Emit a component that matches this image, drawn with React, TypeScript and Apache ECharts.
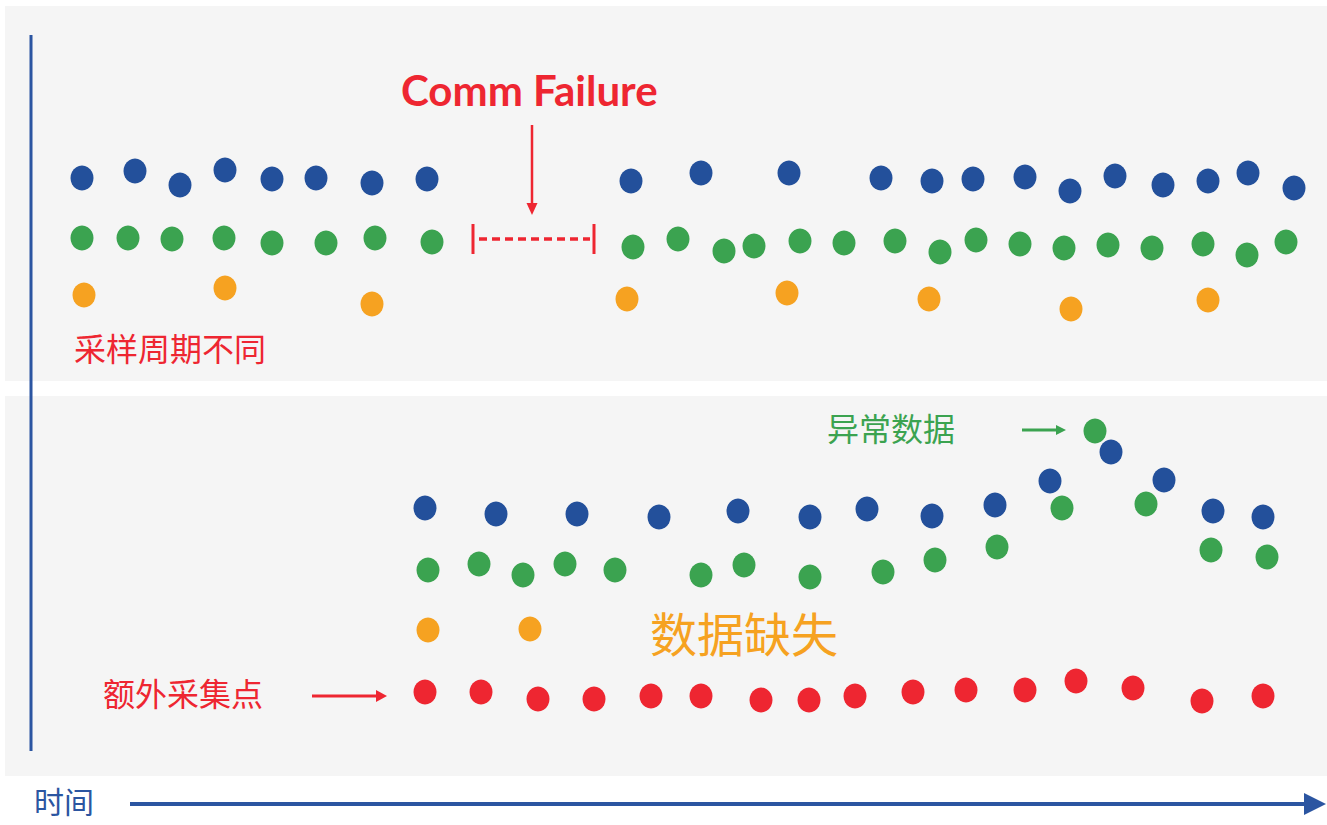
import React, { useEffect, useRef } from "react";
import * as echarts from "echarts";

// time axis (tenths of the illustration's time unit), value axis per panel
const topBlueT = [8.2, 13.5, 18.0, 22.5, 27.2, 31.6, 37.2, 42.7, 63.1, 70.1, 78.9, 88.1, 93.2, 97.3, 102.5, 107.0, 111.5, 116.3, 120.8, 124.8, 129.4];
const topBlueV = [20.3, 21.0, 19.6, 21.1, 20.2, 20.3, 19.8, 20.2, 20.0, 20.8, 20.8, 20.3, 20.0, 20.2, 20.4, 19.0, 20.5, 19.6, 20.0, 20.8, 19.3];
const topGreenT = [8.2, 12.8, 17.2, 22.4, 27.2, 32.6, 37.5, 43.2, 63.3, 67.8, 72.4, 75.4, 80.0, 84.4, 89.5, 94.0, 97.6, 102.0, 106.4, 110.8, 115.2, 120.3, 124.7, 128.6];
const topGreenV = [14.3, 14.3, 14.2, 14.3, 13.8, 13.8, 14.3, 13.9, 13.4, 14.2, 13.0, 13.5, 14.0, 13.8, 14.0, 12.9, 14.1, 13.7, 13.3, 13.6, 13.3, 13.7, 12.6, 13.9];
const topOrangeT = [8.4, 22.5, 37.2, 62.7, 78.7, 92.9, 107.1, 120.8];
const topOrangeV = [8.6, 9.3, 7.7, 8.2, 8.8, 8.2, 7.2, 8.1];

const botBlueT = [42.5, 49.6, 57.7, 65.9, 73.8, 81.0, 86.7, 93.2, 99.5, 105.0, 111.1, 116.4, 121.3, 126.3];
const botBlueV = [26.8, 26.2, 26.2, 25.9, 26.5, 25.9, 26.7, 26.0, 27.1, 29.5, 32.4, 29.6, 26.5, 25.9];
const botGreenT = [42.8, 47.9, 52.3, 56.5, 61.5, 70.1, 74.4, 81.0, 88.3, 93.5, 99.7, 106.2, 109.5, 114.6, 121.1, 126.7];
const botGreenV = [20.6, 21.2, 20.1, 21.2, 20.6, 20.1, 21.1, 19.9, 20.4, 21.6, 22.9, 26.8, 34.5, 27.2, 22.6, 21.9];
const botOrangeT = [42.8, 53.0];
const botOrangeV = [14.6, 14.7];
const botRedT = [42.5, 48.1, 53.8, 59.4, 65.1, 70.1, 76.1, 80.9, 85.5, 91.3, 96.6, 102.5, 107.6, 113.3, 120.2, 126.3];
const botRedV = [8.4, 8.4, 7.7, 7.7, 8.0, 8.0, 7.6, 7.6, 8.0, 8.4, 8.6, 8.6, 9.5, 8.8, 7.5, 8.0];

const labelSampling = "采样周期不同";
const labelFailure = "Comm Failure";
const labelAbnormal = "异常数据";
const labelMissing = "数据缺失";
const labelExtra = "额外采集点";
const labelTime = "时间";

const BLUE = "#23509b";
const GREEN = "#3ba350";
const ORANGE = "#f6a221";
const RED = "#ee2631";
const AXIS_BLUE = "#2b55a1";
const CJK = "'Noto Sans CJK SC', 'Noto Sans', sans-serif";

const zip = (t: number[], v: number[]) => t.map((x, i) => [x, v[i]]);

export default function App() {
  const ref = useRef<HTMLDivElement>(null);
  useEffect(() => {
    if (!ref.current) return;
    const chart = echarts.init(ref.current, null, { renderer: "svg" });
    const sym = (name: string, color: string, xi: number, data: number[][]) => ({
      name,
      type: "scatter",
      xAxisIndex: xi,
      yAxisIndex: xi,
      symbol: "circle",
      symbolSize: [23, 25],
      itemStyle: { color, opacity: 1 },
      data,
      z: 5,
    });
    const hidden = { show: false };
    chart.setOption({
      animation: false,
      backgroundColor: "#ffffff",
      grid: [
        { left: 5, top: 6, width: 1322, height: 375, show: true, backgroundColor: "#f5f5f5", borderWidth: 0 },
        { left: 5, top: 396, width: 1322, height: 380, show: true, backgroundColor: "#f5f5f5", borderWidth: 0 },
      ],
      xAxis: [
        { type: "value", gridIndex: 0, min: 0.5, max: 132.7, axisLine: hidden, axisTick: hidden, axisLabel: hidden, splitLine: hidden },
        { type: "value", gridIndex: 1, min: 0.5, max: 132.7, axisLine: hidden, axisTick: hidden, axisLabel: hidden, splitLine: hidden },
      ],
      yAxis: [
        { type: "value", gridIndex: 0, min: 0, max: 37.5, axisLine: hidden, axisTick: hidden, axisLabel: hidden, splitLine: hidden },
        { type: "value", gridIndex: 1, min: 0, max: 38, axisLine: hidden, axisTick: hidden, axisLabel: hidden, splitLine: hidden },
      ],
      series: [
        sym("top-blue", BLUE, 0, zip(topBlueT, topBlueV)),
        sym("top-green", GREEN, 0, zip(topGreenT, topGreenV)),
        sym("top-orange", ORANGE, 0, zip(topOrangeT, topOrangeV)),
        sym("bottom-blue", BLUE, 1, zip(botBlueT, botBlueV)),
        sym("bottom-green", GREEN, 1, zip(botGreenT, botGreenV)),
        sym("bottom-orange", ORANGE, 1, zip(botOrangeT, botOrangeV)),
        sym("bottom-red", RED, 1, zip(botRedT, botRedV)),
      ],
      graphic: [
        // vertical value axis line
        { type: "line", shape: { x1: 31, y1: 35, x2: 31, y2: 751 }, style: { stroke: AXIS_BLUE, lineWidth: 3 }, z: 10 },
        // time arrow
        { type: "line", shape: { x1: 130, y1: 804, x2: 1308, y2: 804 }, style: { stroke: AXIS_BLUE, lineWidth: 4 }, z: 10 },
        { type: "polygon", shape: { points: [[1304, 793], [1326, 804], [1304, 815]] }, style: { fill: AXIS_BLUE }, z: 10 },
        { type: "text", left: 34, top: 785, style: { text: labelTime, fill: AXIS_BLUE, font: `30px ${CJK}` }, z: 10 },
        // Comm failure
        { type: "text", left: 401, top: 69, style: { text: labelFailure, fill: RED, font: `bold 42px Lato, 'Open Sans', sans-serif` }, z: 10 },
        { type: "line", shape: { x1: 532, y1: 125, x2: 532, y2: 206 }, style: { stroke: RED, lineWidth: 2.5 }, z: 10 },
        { type: "polygon", shape: { points: [[526.5, 203], [537.5, 203], [532, 215]] }, style: { fill: RED }, z: 10 },
        { type: "line", shape: { x1: 473, y1: 224, x2: 473, y2: 254 }, style: { stroke: RED, lineWidth: 3 }, z: 10 },
        { type: "line", shape: { x1: 594, y1: 224, x2: 594, y2: 254 }, style: { stroke: RED, lineWidth: 3 }, z: 10 },
        { type: "line", shape: { x1: 479, y1: 239, x2: 590, y2: 239 }, style: { stroke: RED, lineWidth: 3.5, lineDash: [8, 5] }, z: 10 },
        { type: "text", left: 74, top: 331, style: { text: labelSampling, fill: RED, font: `32px ${CJK}` }, z: 10 },
        // abnormal
        { type: "text", left: 827, top: 411, style: { text: labelAbnormal, fill: GREEN, font: `32px ${CJK}` }, z: 10 },
        { type: "line", shape: { x1: 1022, y1: 430, x2: 1058, y2: 430 }, style: { stroke: GREEN, lineWidth: 3 }, z: 10 },
        { type: "polygon", shape: { points: [[1056, 425], [1066, 430], [1056, 435]] }, style: { fill: GREEN }, z: 10 },
        // missing
        { type: "text", left: 650, top: 608, style: { text: labelMissing, fill: ORANGE, font: `47px ${CJK}` }, z: 10 },
        // extra
        { type: "text", left: 103, top: 676, style: { text: labelExtra, fill: RED, font: `32px ${CJK}` }, z: 10 },
        { type: "line", shape: { x1: 312, y1: 696, x2: 378, y2: 696 }, style: { stroke: RED, lineWidth: 3 }, z: 10 },
        { type: "polygon", shape: { points: [[376, 690], [387, 696], [376, 702]] }, style: { fill: RED }, z: 10 },
      ],
    });
    return () => chart.dispose();
  }, []);
  return (
    <div
      ref={ref}
      style={{ position: "fixed", left: 0, top: 0, width: 1327, height: 825 }}
    />
  );
}
